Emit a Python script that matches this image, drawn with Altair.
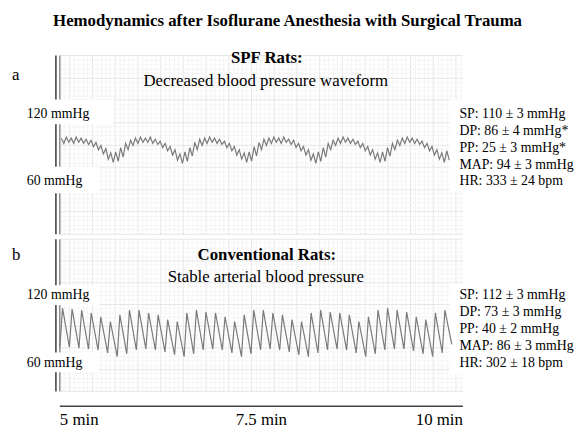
import altair as alt
import numpy as np
import pandas as pd

# ---------------- data ----------------
chart_title = "Hemodynamics after Isoflurane Anesthesia with Surgical Trauma"
panel_letters = ["a", "b"]
panel_titles = ["SPF Rats:", "Conventional Rats:"]
panel_subtitles = ["Decreased blood pressure waveform", "Stable arterial blood pressure"]
scale_labels = ["120 mmHg", "60 mmHg"]
stats_spf = ["SP: 110 \u00b1 3 mmHg", "DP: 86 \u00b1 4 mmHg*", "PP: 25 \u00b1 3 mmHg*",
             "MAP: 94 \u00b1 3 mmHg", "HR: 333 \u00b1 24 bpm"]
stats_conv = ["SP: 112 \u00b1 3 mmHg", "DP: 73 \u00b1 3 mmHg", "PP: 40 \u00b1 2 mmHg",
              "MAP: 86 \u00b1 3 mmHg", "HR: 302 \u00b1 18 bpm"]
time_ticks = [5, 7.5, 10]
time_labels = ["5 min", "7.5 min", "10 min"]

# SPF rats: per-beat systolic peaks / diastolic troughs (mmHg)
spf_peaks = [111, 112, 111, 112, 111, 110, 109, 107, 104, 101, 97, 98, 102, 106, 109, 111,
             112, 111, 112, 110, 108, 106, 103, 100, 96, 98, 102, 107, 110, 111,
             112, 111, 110, 108, 106, 103, 100, 97, 98, 103, 107, 110, 111,
             112, 111, 112, 110, 109, 106, 103, 100, 96, 98, 102, 106, 109, 111,
             112, 111, 110, 108, 106, 103, 100, 97, 98, 102, 106, 109, 111,
             112, 111, 110, 108, 106, 103, 100, 97, 99]
spf_troughs = [106, 107, 106, 107, 106, 105, 103, 100, 96, 91, 88, 89, 93, 100, 104, 106,
               107, 107, 106, 105, 102, 99, 95, 90, 87, 89, 94, 100, 104, 106,
               107, 106, 105, 102, 99, 95, 91, 88, 89, 94, 100, 104, 106,
               107, 106, 107, 105, 102, 99, 95, 90, 87, 89, 93, 100, 104, 106,
               107, 106, 105, 102, 99, 95, 91, 88, 89, 94, 100, 104, 106,
               107, 106, 105, 102, 99, 95, 91, 88, 90]
# Conventional rats: per-beat peaks (41) and preceding troughs (42, last = end of trace)
conv_peaks = [117, 116, 115, 112, 108, 103, 110, 115, 115, 112, 110, 105, 103, 112,
              115, 113, 112, 108, 103, 110, 115, 115, 112, 110, 105, 103, 112,
              115, 113, 112, 110, 103, 108, 115, 117, 115, 113, 108, 105, 112, 115]
conv_troughs = [76, 76, 75, 74, 73, 70, 66, 69, 73, 74, 73, 71, 68, 66, 69, 73, 74, 73, 70, 66,
                69, 73, 74, 73, 71, 68, 66, 70, 73, 74, 73, 70, 66, 69, 73, 74, 74, 72, 69, 66,
                70, 79]

SPF_START, SPF_BEAT = 5.025, 0.0613     # minutes
CONV_START, CONV_BEAT = 5.006, 0.1186   # minutes

# ---------------- build tables ----------------
spf_t, spf_p = [], []
for i, (pk, tr) in enumerate(zip(spf_peaks, spf_troughs)):
    spf_t += [SPF_START + i * SPF_BEAT, SPF_START + (i + 0.5) * SPF_BEAT]
    spf_p += [pk, tr]
spf_df = pd.DataFrame({"t": spf_t, "p": spf_p})

conv_t, conv_p = [], []
for i, tr in enumerate(conv_troughs):
    conv_t.append(CONV_START + i * CONV_BEAT)
    conv_p.append(tr)
    if i < len(conv_peaks):
        conv_t.append(CONV_START + (i + 0.28) * CONV_BEAT)
        conv_p.append(conv_peaks[i])
conv_df = pd.DataFrame({"t": conv_t, "p": conv_p})

# ---------------- styling ----------------
SERIF = "Liberation Serif"
W = 408
H_A, H_B = 181, 154
MAJOR, MINOR = "#e6e6e6", "#f5f5f5"
WAVE = "#7a7a7a"

px_per_min = W / 5.0
x_major = [5 + (10 + 23 * k) / px_per_min for k in range(18)]
x_minor = [v for j in range(-2, 90) if j % 5 != 0
           for v in [5 + (10 + 4.6 * j) / px_per_min] if 5 <= v <= 10]


def y_grid(lo, hi, n_major):
    major = list(np.linspace(lo, hi, n_major + 1))
    allv = list(np.linspace(lo, hi, n_major * 5 + 1))
    minor = [v for k, v in enumerate(allv) if k % 5 != 0]
    return major, minor


label_expr = " : ".join(
    f"datum.value == {v} ? '{l}'" for v, l in zip(time_ticks[:-1], time_labels[:-1])
) + f" : '{time_labels[-1]}'"

one = pd.DataFrame({"k": [0]})


def txt(text, x, y, size=17, weight="normal", align="left"):
    return alt.Chart(one).mark_text(
        text=text, font=SERIF, fontSize=size, fontWeight=weight, align=align,
        baseline="middle", color="black"
    ).encode(x=alt.value(x), y=alt.value(y))


def box(x, x2, y, y2):
    return alt.Chart(one).mark_rect(color="white").encode(
        x=alt.value(x), x2=alt.value(x2), y=alt.value(y), y2=alt.value(y2))


def grid_axis(orient, values, color, domain=False):
    return alt.Axis(orient=orient, values=values, grid=True, gridColor=color, gridWidth=1,
                    labels=False, ticks=False, domain=domain, domainColor="#555",
                    domainWidth=1, title=None, minExtent=0, maxExtent=0)


def panel(df, ydom, n_major, height, bottom_axis, decorations):
    xs = alt.Scale(domain=[5, 10], nice=False, zero=False)
    ys = alt.Scale(domain=ydom, nice=False, zero=False)
    ymaj, ymin = y_grid(ydom[0], ydom[1], n_major)
    base = alt.Chart(df)
    minor = base.mark_line(opacity=0).encode(
        x=alt.X("t:Q", scale=xs, axis=grid_axis("top", x_minor, MINOR)),
        y=alt.Y("p:Q", scale=ys, axis=grid_axis("right", ymin, MINOR)))
    major = base.mark_line(opacity=0).encode(
        x=alt.X("t:Q", scale=xs, axis=grid_axis("top", x_major, MAJOR)),
        y=alt.Y("p:Q", scale=ys, axis=grid_axis("left", ymaj, MAJOR, domain=True)))
    dbl = base.mark_line(opacity=0).encode(
        x=alt.X("t:Q", scale=xs, axis=bottom_axis),
        y=alt.Y("p:Q", scale=ys, axis=alt.Axis(
            orient="left", offset=4, grid=False, labels=False, ticks=False, domain=True,
            domainColor="#444", domainWidth=1.6, title=None, minExtent=0, maxExtent=0)))
    wave = base.mark_line(color=WAVE, strokeWidth=1.2).encode(
        x=alt.X("t:Q", scale=xs, axis=None),
        y=alt.Y("p:Q", scale=ys, axis=None))
    return alt.layer(minor, major, dbl, *decorations[0], wave, *decorations[1]).resolve_axis(
        x="independent", y="independent").properties(width=W, height=height)


bottom = alt.Axis(orient="bottom", values=time_ticks, labelExpr=label_expr, offset=15,
                  grid=False, ticks=False, tickSize=0, domain=True, domainColor="#444",
                  domainWidth=1.5, labelFont=SERIF, labelFontSize=17, labelColor="black",
                  labelPadding=6, labelFlush=True, title=None)

# panel a decorations
boxes_a = [box(-40, 55, 45, 70), box(-40, 40, 113, 140), box(395, 410, 45, 138)]
texts_a = [txt(chart_title, 231, -34, size=17, weight="bold", align="center"),
           txt(panel_letters[0], -48, 20),
           txt(panel_titles[0], 210, 3, weight="bold", align="center"),
           txt(panel_subtitles[0], 209, 26, align="center"),
           txt(scale_labels[0], -33, 60, size=14),
           txt(scale_labels[1], -33, 128, size=14)]
texts_a += [txt(s, 405, 60 + 17 * k, size=14) for k, s in enumerate(stats_spf)]

boxes_b = [box(-40, 40, 47, 67), box(-40, 40, 115, 135), box(395, 410, 45, 137)]
texts_b = [txt(panel_letters[1], -48, 16),
           txt(panel_titles[1], 210, 16, weight="bold", align="center"),
           txt(panel_subtitles[1], 209, 39, align="center"),
           txt(scale_labels[0], -33, 57, size=14),
           txt(scale_labels[1], -33, 126, size=14)]
texts_b += [txt(s, 405, 57 + 17.3 * k, size=14) for k, s in enumerate(stats_conv)]

panel_a = panel(spf_df, [20, 190], 8, H_A, None, (boxes_a, texts_a))
panel_b = panel(conv_df, [30, 190], 7, H_B, bottom, (boxes_b, texts_b))

chart = alt.vconcat(panel_a, panel_b, spacing=5).properties(
    padding={"left": 4, "top": 2, "right": 0, "bottom": 4}
).configure_view(stroke=None).configure_axis(
    labelFont=SERIF, labelFontSize=17, labelColor="black"
).configure_text(font=SERIF)

chart.save("out.html", embed_options={"renderer": "svg", "actions": False})
